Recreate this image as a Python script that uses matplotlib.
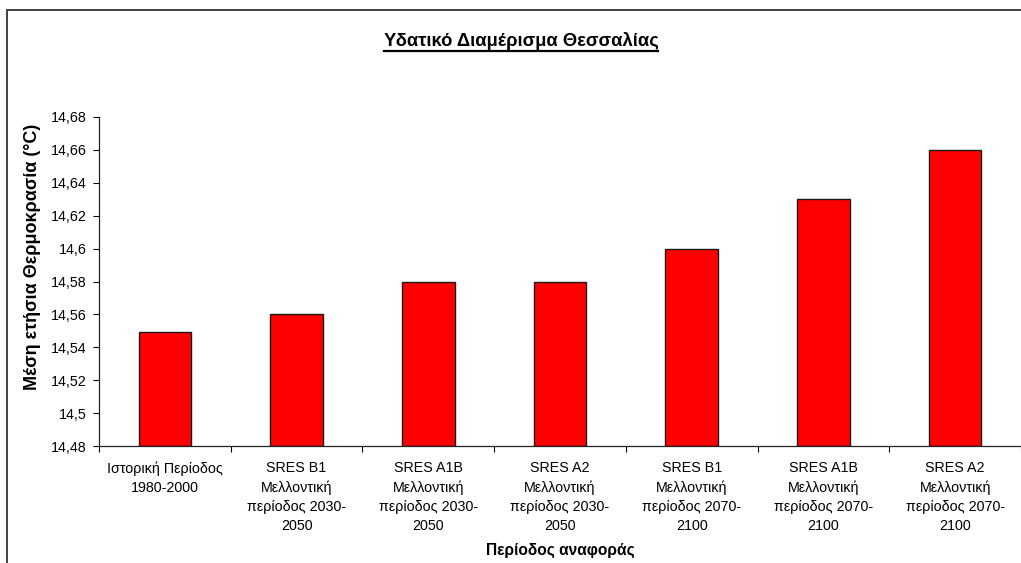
import matplotlib
matplotlib.use("Agg")
import matplotlib.pyplot as plt
from matplotlib.patches import Rectangle
from matplotlib.lines import Line2D
from matplotlib.ticker import FuncFormatter, MultipleLocator
import numpy as np

plt.rcParams['font.family'] = ['Liberation Sans', 'DejaVu Sans']

# Data
categories = [
    'Ιστορική Περίοδος\n1980-2000',
    'SRES B1\nΜελλοντική\nπερίοδος 2030-\n2050',
    'SRES A1B\nΜελλοντική\nπερίοδος 2030-\n2050',
    'SRES A2\nΜελλοντική\nπερίοδος 2030-\n2050',
    'SRES B1\nΜελλοντική\nπερίοδος 2070-\n2100',
    'SRES A1B\nΜελλοντική\nπερίοδος 2070-\n2100',
    'SRES A2\nΜελλοντική\nπερίοδος 2070-\n2100',
]
values = [14.549, 14.56, 14.58, 14.58, 14.60, 14.63, 14.66]

fig = plt.figure(figsize=(10.21, 5.63), dpi=100)
ax = fig.add_axes([99 / 1021, 1 - 446 / 563, 1 - 99 / 1021, (446 - 117) / 563])

x = np.arange(len(categories))
ax.bar(x, [v - 14.48 for v in values], bottom=14.48, width=0.4,
       color='#ff0000', edgecolor='#1a1a1a', linewidth=1.0, zorder=2)

ax.set_xlim(-0.5, len(categories) - 0.5)
ax.set_ylim(14.48, 14.68)
ax.yaxis.set_major_locator(MultipleLocator(0.02))

def comma_fmt(v, pos):
    s = f"{v:.2f}".rstrip('0').rstrip('.')
    return s.replace('.', ',')

ax.yaxis.set_major_formatter(FuncFormatter(comma_fmt))

ax.set_xticks(x)
ax.set_xticklabels(categories, fontsize=10.3, linespacing=1.45, va='top')
ax.set_xticks(np.arange(-0.5, len(categories), 1.0), minor=True)
ax.tick_params(axis='x', which='major', length=0, pad=11)
ax.tick_params(axis='x', which='minor', length=4, width=0.8, direction='out')
ax.tick_params(axis='y', length=4, width=0.8, direction='out', labelsize=10.3, pad=5)

for side in ['top', 'right']:
    ax.spines[side].set_visible(False)
for side in ['left', 'bottom']:
    ax.spines[side].set_linewidth(0.9)
    ax.spines[side].set_color('#222222')

fig.text(33 / 1021, 1 - 257 / 563, 'Μέση ετήσια Θερμοκρασία (°C)', fontsize=13,
         fontweight='bold', rotation=90, ha='center', va='center')
fig.text(560 / 1021, 1 - 550 / 563, 'Περίοδος αναφοράς', fontsize=11.2,
         fontweight='bold', ha='center', va='center')
title = fig.text(521 / 1021, 1 - 41 / 563, 'Υδατικό Διαμέρισμα Θεσσαλίας',
                 fontsize=13.2, fontweight='bold', ha='center', va='center')

# chart area border (extends past the image on right and bottom)
fig.add_artist(Rectangle((7 / 1021, -0.1), 1.2, 1 - 10 / 563 + 0.1,
                         transform=fig.transFigure, fill=False,
                         edgecolor='#333333', linewidth=1.3))

# underline the title
fig.canvas.draw()
bb = title.get_window_extent()
W, H = fig.bbox.width, fig.bbox.height
y_line = (bb.y0 - 1.0) / H
fig.add_artist(Line2D([bb.x0 / W, bb.x1 / W], [y_line, y_line],
                      transform=fig.transFigure, color='black', linewidth=1.6))

fig.savefig('out.png', dpi=100)
